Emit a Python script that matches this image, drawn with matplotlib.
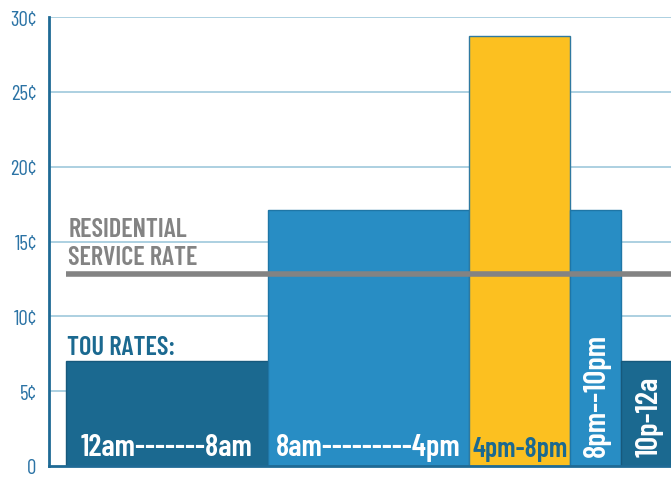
import matplotlib
matplotlib.use("Agg")
import matplotlib.pyplot as plt

# time-of-use periods (hours of day) and rates in cents
starts = [0, 8, 16, 20, 22]
hours = [8, 8, 4, 2, 2]
rates = [7.0, 17.1, 28.7, 17.1, 7.0]
labels = ["12am-------8am", "8am---------4pm", "4pm-8pm", "8pm--10pm", "10p-12a"]
residential_rate = 12.8
yticks = [0, 5, 10, 15, 20, 25, 30]
ytick_labels = ["0", "5\u00a2", "10\u00a2", "15\u00a2", "20\u00a2", "25\u00a2", "30\u00a2"]

dark = "#1b6990"
mid = "#288dc4"
gold = "#fcc020"
colors = [dark, mid, gold, mid, dark]
edges = ["#17597c", "#1f76a6", "#2f79a0", "#1f76a6", "#17597c"]
grey = "#838383"

plt.rcParams['font.family'] = ['Barlow Condensed', 'DejaVu Sans']

fig = plt.figure(figsize=(6.71, 4.81), dpi=100)
ax = fig.add_axes([49/671, 1-467/481, 622/671, 449/481])

ax.set_xlim(-0.673, 24)
ax.set_ylim(0, 30)

for t in yticks[1:]:
    ax.axhline(t, color="#9ec8dc", lw=1.2, zorder=0)

ax.bar(starts, rates, width=hours, align="edge", color=colors,
       edgecolor=edges, linewidth=1, zorder=2)

ax.plot([0, 24], [residential_rate, residential_rate], color=grey, lw=4,
        zorder=3, solid_capstyle="butt")

ax.set_yticks(yticks)
ax.set_yticklabels(ytick_labels, color="#2b73a5", fontsize=15)
ax.tick_params(axis="y", length=0, pad=9)
ax.set_xticks([])

for s in ["top", "right"]:
    ax.spines[s].set_visible(False)
ax.spines["left"].set_color("#1f6a95")
ax.spines["left"].set_linewidth(2)
ax.spines["bottom"].set_color("#1f6a95")
ax.spines["bottom"].set_linewidth(2)

ax.text(0.1, 13.15, "RESIDENTIAL\nSERVICE RATE", color=grey, fontsize=19,
        fontweight="semibold", ha="left", va="bottom", linespacing=1.2, zorder=4)
ax.text(0.05, 7.18, "TOU RATES:", color=dark, fontsize=19,
        fontweight="semibold", ha="left", va="bottom", zorder=4)

ax.text(starts[0] + hours[0]/2, 0.32, labels[0], color="white", fontsize=22,
        fontweight="semibold", ha="center", va="bottom", zorder=4)
ax.text(starts[1] + hours[1]/2, 0.32, labels[1], color="white", fontsize=22,
        fontweight="semibold", ha="center", va="bottom", zorder=4)
ax.text(starts[2] + hours[2]/2, 0.32, labels[2], color=dark, fontsize=20,
        fontweight="semibold", ha="center", va="bottom", zorder=4)
ax.text(starts[3] + hours[3]/2 + 0.05, 0.65, labels[3], color="white", fontsize=22,
        fontweight="semibold", ha="center", va="bottom", rotation=90, zorder=4)
ax.text(starts[4] + hours[4]/2 + 0.15, 0.65, labels[4], color="white", fontsize=22,
        fontweight="semibold", ha="center", va="bottom", rotation=90, zorder=4)

fig.savefig("out.png", dpi=100)
